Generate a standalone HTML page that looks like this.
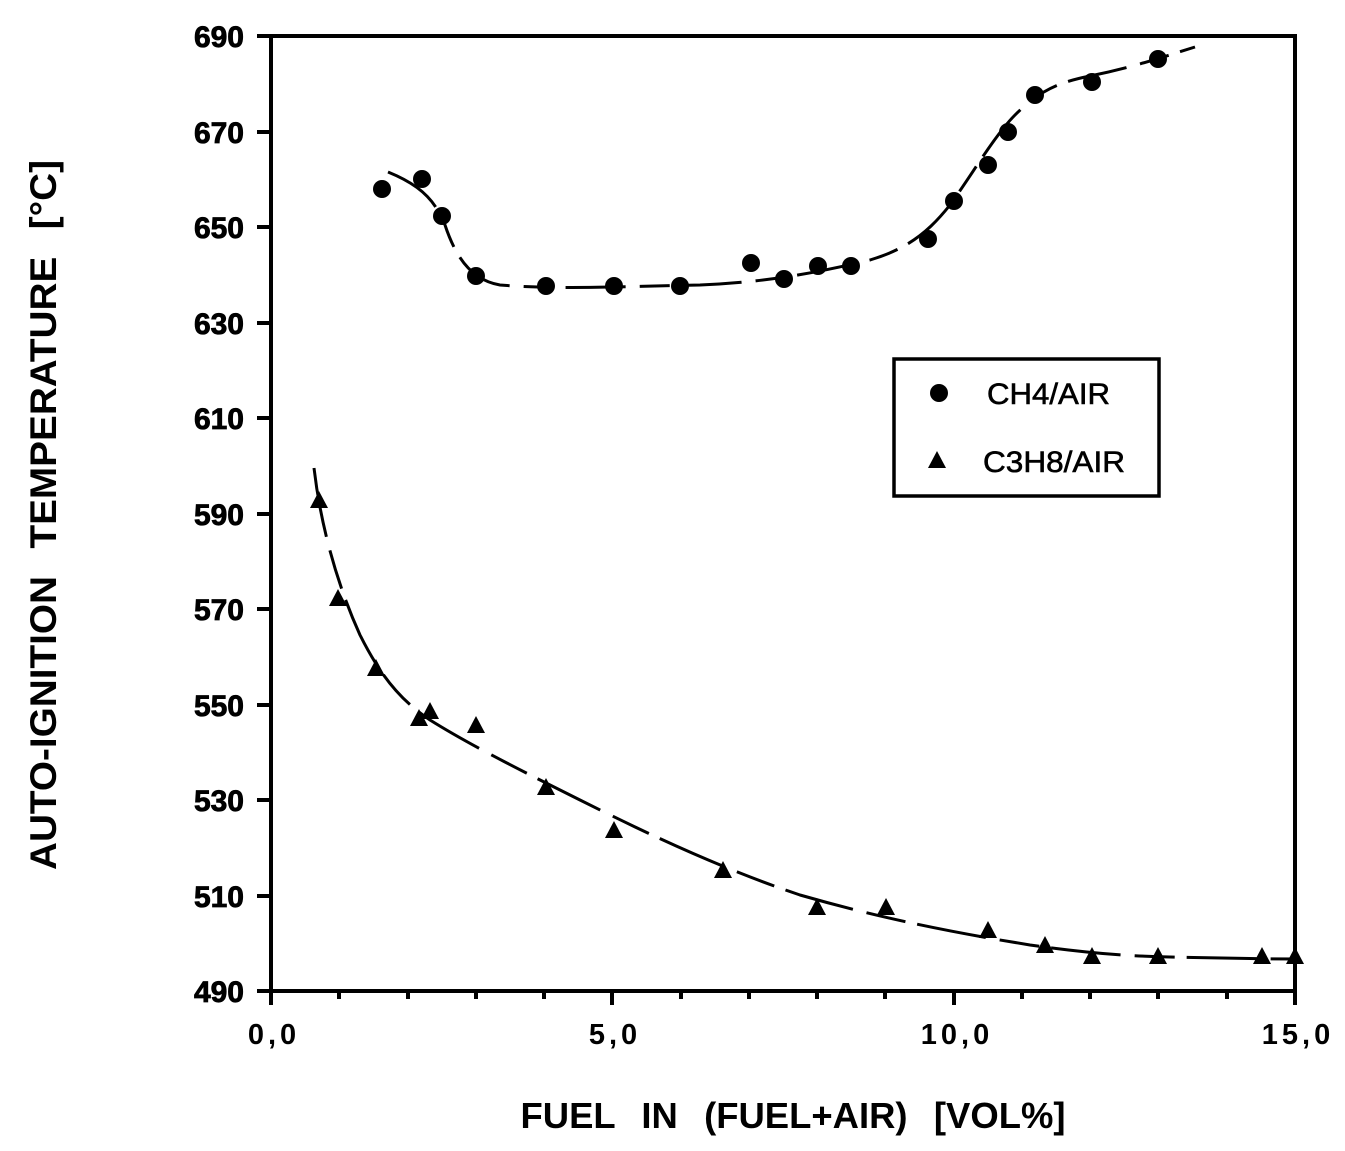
<!DOCTYPE html>
<html><head><meta charset="utf-8"><style>
html,body{margin:0;padding:0;background:#fff;}
svg{display:block;}
text{font-family:"Liberation Sans",Arial,sans-serif;font-weight:bold;fill:#000;}
</style></head><body>
<svg width="1345" height="1151" viewBox="0 0 1345 1151" xmlns="http://www.w3.org/2000/svg">
<rect width="1345" height="1151" fill="#fff"/>
<rect x="271" y="36" width="1024" height="955" fill="none" stroke="#000" stroke-width="4"/>
<g stroke="#000" stroke-width="4">
<line x1="257" y1="36" x2="271" y2="36"/><line x1="257" y1="132" x2="271" y2="132"/>
<line x1="257" y1="227" x2="271" y2="227"/><line x1="257" y1="323" x2="271" y2="323"/>
<line x1="257" y1="418" x2="271" y2="418"/><line x1="257" y1="514" x2="271" y2="514"/>
<line x1="257" y1="609" x2="271" y2="609"/><line x1="257" y1="705" x2="271" y2="705"/>
<line x1="257" y1="800" x2="271" y2="800"/><line x1="257" y1="896" x2="271" y2="896"/>
<line x1="257" y1="991" x2="271" y2="991"/>
</g>
<g stroke="#000" stroke-width="4">
<line x1="271" y1="991" x2="271" y2="1005"/>
<line x1="339" y1="991" x2="339" y2="999"/><line x1="408" y1="991" x2="408" y2="999"/>
<line x1="476" y1="991" x2="476" y2="999"/><line x1="544" y1="991" x2="544" y2="999"/>
<line x1="612" y1="991" x2="612" y2="1005"/><line x1="681" y1="991" x2="681" y2="999"/>
<line x1="749" y1="991" x2="749" y2="999"/><line x1="817" y1="991" x2="817" y2="999"/>
<line x1="885" y1="991" x2="885" y2="999"/><line x1="954" y1="991" x2="954" y2="1005"/>
<line x1="1022" y1="991" x2="1022" y2="999"/><line x1="1090" y1="991" x2="1090" y2="999"/>
<line x1="1158" y1="991" x2="1158" y2="999"/><line x1="1227" y1="991" x2="1227" y2="999"/>
<line x1="1295" y1="991" x2="1295" y2="1005"/>
</g>
<g font-size="30" text-anchor="end" style="font-weight:normal" stroke="#000" stroke-width="0.8">
<text x="244" y="47">690</text><text x="244" y="143">670</text><text x="244" y="238">650</text>
<text x="244" y="334">630</text><text x="244" y="429">610</text><text x="244" y="525">590</text>
<text x="244" y="620">570</text><text x="244" y="716">550</text><text x="244" y="811">530</text>
<text x="244" y="907">510</text><text x="244" y="1002">490</text>
</g>
<g font-size="29" text-anchor="middle" letter-spacing="4">
<text x="274" y="1044">0,0</text><text x="615" y="1044">5,0</text>
<text x="957" y="1044">10,0</text><text x="1298" y="1044">15,0</text>
</g>
<text x="793" y="1128" font-size="36" text-anchor="middle" word-spacing="16" textLength="545" lengthAdjust="spacingAndGlyphs">FUEL IN (FUEL+AIR) [VOL%]</text>
<text transform="translate(56,515) rotate(-90)" font-size="37" text-anchor="middle" word-spacing="16" textLength="710" lengthAdjust="spacingAndGlyphs">AUTO-IGNITION TEMPERATURE [°C]</text>
<path d="M388,172 C420,185 435,200 445,225 C455,255 470,280 500,285 C560,290 640,286 700,285 C770,282 820,272 870,260 C910,248 930,230 950,205 C975,170 995,135 1015,115 C1040,90 1060,82 1090,76 C1130,68 1160,58 1195,47" fill="none" stroke="#000" stroke-width="3" stroke-dasharray="60,14,30,12"/>
<path d="M314,468 C320,520 335,580 360,635 C380,675 400,700 430,720 C470,745 520,770 580,800 C650,835 720,868 800,895 C880,918 950,932 1030,945 C1080,952 1120,956 1170,957 C1220,958 1260,959 1300,959" fill="none" stroke="#000" stroke-width="3" stroke-dasharray="70,14,40,12"/>
<g fill="#000">
<circle cx="382" cy="189" r="9"/><circle cx="422" cy="179" r="9"/><circle cx="442" cy="216" r="9"/>
<circle cx="476" cy="276" r="9"/><circle cx="546" cy="286" r="9"/><circle cx="614" cy="286" r="9"/>
<circle cx="680" cy="286" r="9"/><circle cx="751" cy="263" r="9"/><circle cx="784" cy="279" r="9"/>
<circle cx="818" cy="266" r="9"/><circle cx="851" cy="266" r="9"/><circle cx="928" cy="239" r="9"/>
<circle cx="954" cy="201" r="9"/><circle cx="988" cy="165" r="9"/><circle cx="1008" cy="132" r="9"/>
<circle cx="1035" cy="95" r="9"/><circle cx="1092" cy="82" r="9"/><circle cx="1158" cy="59" r="9"/>
</g>
<g fill="#000">
<path d="M319,491 l-9,17 h18z"/><path d="M338,589 l-9,17 h18z"/><path d="M376,659 l-9,17 h18z"/>
<path d="M419,709 l-9,17 h18z"/><path d="M430,702 l-9,17 h18z"/><path d="M476,716 l-9,17 h18z"/>
<path d="M546,778 l-9,17 h18z"/><path d="M614,821 l-9,17 h18z"/><path d="M723,861 l-9,17 h18z"/>
<path d="M817,898 l-9,17 h18z"/><path d="M886,898 l-9,17 h18z"/><path d="M988,921 l-9,17 h18z"/>
<path d="M1045,936 l-9,17 h18z"/><path d="M1092,947 l-9,17 h18z"/><path d="M1158,947 l-9,17 h18z"/>
<path d="M1262,947 l-9,17 h18z"/><path d="M1295,947 l-9,17 h18z"/>
</g>
<rect x="894" y="359" width="265" height="137" fill="#fff" stroke="#000" stroke-width="3.5"/>
<circle cx="939" cy="393" r="9"/>
<path d="M937,451 l-9,17 h18z"/>
<text x="987" y="404" font-size="30" style="font-weight:normal" stroke="#000" stroke-width="0.6" textLength="123" lengthAdjust="spacingAndGlyphs">CH4/AIR</text>
<text x="983" y="472" font-size="30" style="font-weight:normal" stroke="#000" stroke-width="0.6" textLength="142" lengthAdjust="spacingAndGlyphs">C3H8/AIR</text>
</svg>
</body></html>
